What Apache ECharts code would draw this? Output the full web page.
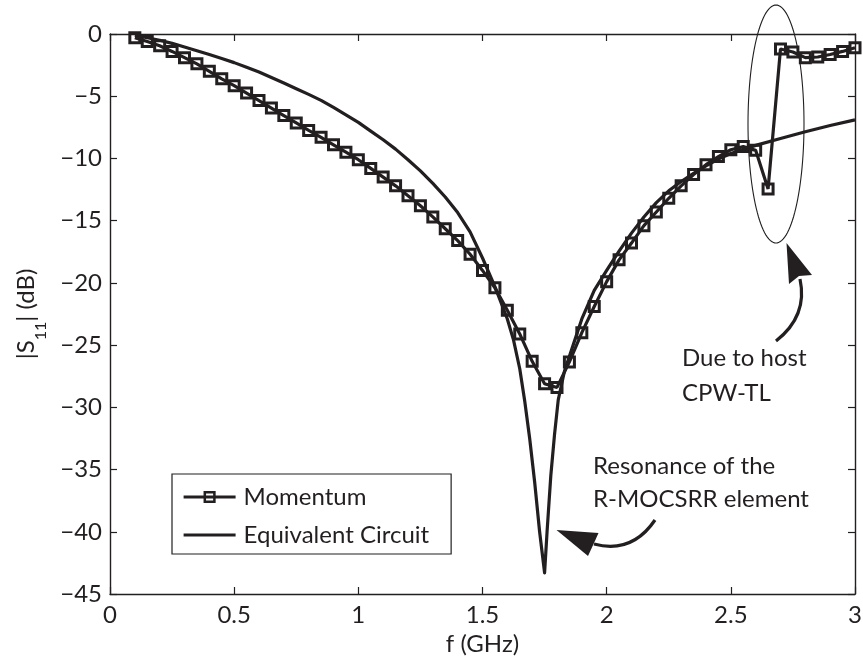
<!DOCTYPE html>
<html><head><meta charset="utf-8">
<script src="https://cdn.jsdelivr.net/npm/echarts@6/dist/echarts.min.js"></script>
<style>html,body{margin:0;padding:0;background:#fff}#c{width:863px;height:662px}</style>
</head><body><div id="c"></div>
<script>
// ---- data ----
const momentumF = [0.10,0.15,0.20,0.25,0.30,0.35,0.40,0.45,0.50,0.55,0.60,0.65,0.70,0.75,0.80,0.85,0.90,0.95,1.00,1.05,1.10,1.15,1.20,1.25,1.30,1.35,1.40,1.45,1.50,1.55,1.60,1.65,1.70,1.75,1.80,1.85,1.90,1.95,2.00,2.05,2.10,2.15,2.20,2.25,2.30,2.35,2.40,2.45,2.50,2.55,2.60,2.65,2.70,2.75,2.80,2.85,2.90,2.95,3.00];
const momentumS11 = [-0.3,-0.6,-0.95,-1.4,-1.9,-2.4,-3.0,-3.6,-4.15,-4.75,-5.35,-5.95,-6.55,-7.15,-7.75,-8.3,-8.9,-9.5,-10.1,-10.8,-11.5,-12.2,-13.0,-13.8,-14.7,-15.65,-16.6,-17.7,-19.0,-20.4,-22.2,-24.1,-26.3,-28.1,-28.4,-26.35,-24.0,-21.9,-19.9,-18.15,-16.8,-15.4,-14.3,-13.2,-12.2,-11.3,-10.5,-9.85,-9.3,-9.05,-9.35,-12.45,-1.2,-1.45,-1.9,-1.85,-1.65,-1.4,-1.1];
const circuitF = [0.10,0.15,0.20,0.25,0.30,0.35,0.40,0.45,0.50,0.55,0.60,0.65,0.70,0.75,0.80,0.85,0.90,0.95,1.00,1.05,1.10,1.15,1.20,1.25,1.30,1.35,1.40,1.45,1.50,1.55,1.60,1.625,1.65,1.67,1.69,1.71,1.73,1.75,1.76,1.775,1.79,1.805,1.83,1.87,1.90,1.95,2.00,2.05,2.10,2.15,2.20,2.25,2.30,2.35,2.40,2.45,2.50,2.60,2.70,2.80,2.90,3.00];
const circuitS11 = [-0.12,-0.3,-0.5,-0.75,-1.05,-1.35,-1.65,-1.97,-2.3,-2.68,-3.06,-3.5,-3.94,-4.4,-4.85,-5.33,-5.9,-6.5,-7.1,-7.8,-8.5,-9.25,-10.1,-11.0,-12.0,-13.1,-14.35,-15.9,-18.0,-20.3,-22.9,-24.6,-26.9,-29.5,-32.5,-36.0,-40.0,-43.3,-40.0,-35.5,-32.2,-29.4,-27.1,-24.7,-22.9,-20.6,-19.0,-17.45,-16.0,-14.7,-13.55,-12.6,-11.85,-11.2,-10.6,-10.05,-9.6,-8.95,-8.4,-7.85,-7.35,-6.9];
const seriesNames = ['Momentum','Equivalent Circuit'];
const xTicks = {min:0, max:3, step:0.5};
const yTicks = {min:-45, max:0, step:5};
const annoCPW = 'Due to host\nCPW-TL';
const annoRes = 'Resonance of the\nR-MOCSRR element';

const INK = '#231f20';
const FONT = 'Lato';
const pair = (xs, ys) => xs.map((x,i)=>[x, ys[i]]);
const fmtY = v => v < 0 ? '\u2212' + (-v) : String(v);

// ellipse outline (decoration) around the CPW-TL feature
function ellipsePoints(cx, cy, rx, ry, n) {
  const pts = [];
  for (let i = 0; i < n; i++) {
    const t = i / n * Math.PI * 2;
    pts.push([cx + rx * Math.cos(t), cy + ry * Math.sin(t)]);
  }
  return pts;
}

const chart = echarts.init(document.getElementById('c'), null, {renderer:'canvas'});
const axisCommon = {
  axisLine:{show:true, onZero:false, lineStyle:{color:INK, width:1.4}},
  axisTick:{show:true, inside:true, length:7, lineStyle:{color:INK, width:1.2}},
  splitLine:{show:false}
};
chart.setOption({
  backgroundColor:'#fff',
  animation:false,
  grid:{left:110, right:8, top:34, bottom:68, containLabel:false, outerBoundsMode:'none'},
  legend:{
    orient:'vertical', left:172, top:474,
    data:[{name:seriesNames[0]}, {name:seriesNames[1], itemStyle:{opacity:0}}],
    padding:[10,22,6,10], itemGap:12,
    itemWidth:52, itemHeight:12,
    lineStyle:{width:3.2},
    itemStyle:{borderWidth:2.5},
    borderColor:INK, borderWidth:1.2, borderRadius:0, backgroundColor:'#fff',
    textStyle:{fontFamily:FONT, fontSize:24, color:INK, lineHeight:26, padding:[0,0,0,3]}
  },
  xAxis:[
    Object.assign({type:'value', min:xTicks.min, max:xTicks.max, interval:xTicks.step,
      name:'f (GHz)', nameLocation:'middle', nameGap:36,
      nameTextStyle:{fontFamily:FONT, fontSize:24, color:INK},
      axisLabel:{fontFamily:FONT, fontSize:24, color:INK, margin:9}}, axisCommon),
    Object.assign({type:'value', position:'top', min:xTicks.min, max:xTicks.max, interval:xTicks.step,
      axisLabel:{show:false}}, axisCommon)
  ],
  yAxis:[
    Object.assign({type:'value', min:yTicks.min, max:yTicks.max, interval:yTicks.step,
      name:'|S{sub|11}| (dB)', nameLocation:'middle', nameGap:61, nameRotate:90,
      nameTextStyle:{fontFamily:FONT, fontSize:24, color:INK, lineHeight:46, verticalAlign:'bottom',
        rich:{sub:{fontFamily:FONT, fontSize:16, color:INK, lineHeight:16, verticalAlign:'bottom'}}},
      axisLabel:{fontFamily:FONT, fontSize:24, color:INK, margin:8, formatter:fmtY}}, axisCommon),
    Object.assign({type:'value', position:'right', min:yTicks.min, max:yTicks.max, interval:yTicks.step,
      axisLabel:{show:false}}, axisCommon)
  ],
  series:[
    {name:seriesNames[0], type:'line', data:pair(momentumF, momentumS11),
     symbol:'rect', symbolSize:10, showAllSymbol:true,
     lineStyle:{color:INK, width:3.2},
     itemStyle:{color:'rgba(255,255,255,0)', borderColor:INK, borderWidth:3},
     z:3},
    {name:seriesNames[1], type:'line', data:pair(circuitF, circuitS11),
     symbol:'none', smooth:false,
     lineStyle:{color:INK, width:3.2, join:'round'},
     itemStyle:{color:INK},
     z:2}
  ],
  graphic:[
    {type:'polygon', shape:{points:ellipsePoints(776, 124, 28, 119, 120)},
     style:{fill:'none', stroke:INK, lineWidth:1.1}, z:10},
    // arrow to ellipse
    {type:'bezierCurve', shape:{x1:776, y1:341, cpx1:808, cpy1:316, x2:800, y2:279},
     style:{fill:'none', stroke:INK, lineWidth:3.2}, z:10},
    {type:'polygon', shape:{points:[[786.5,243],[789,284],[799,276],[812,275]]},
     style:{fill:INK, stroke:'none'}, z:10},
    // arrow to resonance
    {type:'bezierCurve', shape:{x1:655, y1:520, cpx1:632, cpy1:554, x2:594, y2:544},
     style:{fill:'none', stroke:INK, lineWidth:3.2}, z:10},
    {type:'polygon', shape:{points:[[556.5,530],[598.5,533],[594,543],[588,556]]},
     style:{fill:INK, stroke:'none'}, z:10},
    {type:'text', x:682, y:341, style:{text:annoCPW, fontFamily:FONT, fontSize:24, fill:INK, lineHeight:35, textAlign:'left', textVerticalAlign:'top'}, z:10},
    {type:'text', x:593, y:450, style:{text:annoRes, fontFamily:FONT, fontSize:24, fill:INK, lineHeight:33, textAlign:'left', textVerticalAlign:'top'}, z:10}
  ]
});
</script>
</body></html>
